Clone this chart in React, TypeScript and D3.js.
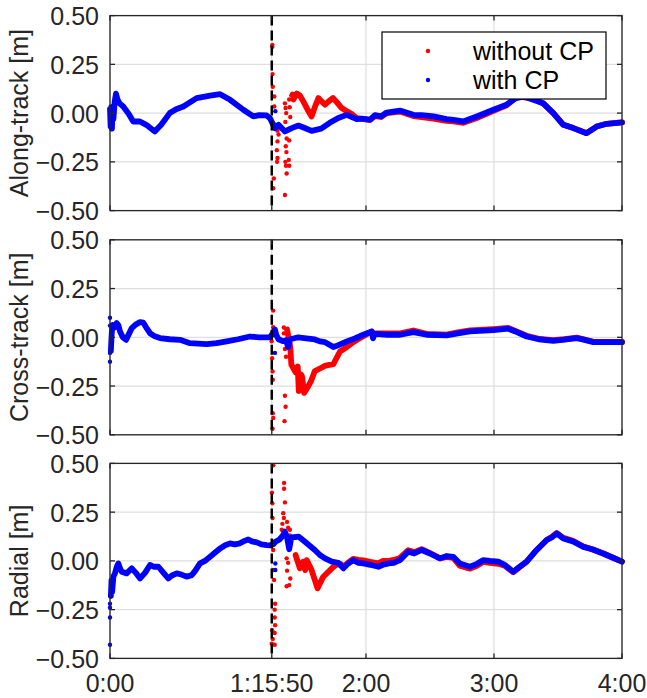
import React from "react";
import * as d3 from "d3";

// ---------- data (time in minutes, error in metres) ----------
const xTickValues = [0, 75 + 50 / 60, 120, 180, 240];
const xTickLabels = ["0:00", "1:15:50", "2:00", "3:00", "4:00"];
const yTickValues = [-0.5, -0.25, 0, 0.25, 0.5];
const panelLabels = ["Along-track [m]", "Cross-track [m]", "Radial [m]"];
const legendLabels = ["without CP", "with CP"];
const eventTime = 75 + 50 / 60;

// Along-track
const alongWithLine: [number, number][] = [
  [0, 0.02], [0.3, -0.07], [0.6, 0.03], [0.9, -0.08], [1.2, 0.02], [1.6, -0.03], [2.2, 0.06], [2.8, 0.1],
  [3.5, 0.07], [4.5, 0.05], [6.2, 0.034], [8.5, 0.0], [10.9, -0.043], [14, -0.043], [17, -0.06], [21, -0.094],
  [24, -0.06], [28, 0.0], [31, 0.02], [34.4, 0.034], [40.6, 0.077], [46.9, 0.09], [51.6, 0.097], [56.3, 0.068],
  [62.5, 0.017], [67.2, -0.017], [70, -0.01], [73.4, -0.012], [75, -0.026], [77.3, -0.077], [79, -0.06],
  [82, -0.094], [85.2, -0.077], [88.3, -0.064], [91, -0.075], [94.5, -0.091], [99, -0.08], [103, -0.05],
  [107, -0.025], [111, -0.009], [115.6, -0.031], [118, -0.028], [121.9, -0.034], [124.2, -0.01], [127, -0.017],
  [129.7, 0.003], [135.9, 0.013], [142.2, -0.009], [146, -0.01], [151.6, -0.017], [157.8, -0.031], [161, -0.035],
  [165.6, -0.043], [171.9, -0.017], [179.7, 0.017], [185.9, 0.043], [190, 0.075], [194, 0.085], [198.4, 0.068],
  [203, 0.051], [207.8, 0.0], [212.5, -0.06], [217.2, -0.077], [223.4, -0.103], [228.1, -0.069], [232.8, -0.055],
  [240, -0.048],
];
const alongWithoutLine: [number, number][] = [
  [86, 0.07], [87.5, 0.1], [89, 0.09], [90.6, 0.06], [92.5, 0.02], [94.5, -0.017], [96, 0.03], [97.7, 0.077],
  [99.2, 0.06], [100.8, 0.043], [102.5, 0.06], [104.5, 0.077], [106, 0.06], [108.6, 0.026], [111, 0.01],
  [113.3, -0.005], [115.6, -0.025], [118, -0.03], [121.9, -0.036], [124.2, -0.015], [127, -0.02], [129.7, 0.0],
  [135.9, 0.008], [142.2, -0.015], [146, -0.02], [151.6, -0.028], [157.8, -0.04], [161, -0.042], [165.6, -0.05],
  [171.9, -0.025], [179.7, 0.012], [185.9, 0.04], [191, 0.085], [198.4, 0.075], [203, 0.05], [207.8, 0.0],
  [212.5, -0.06], [217.2, -0.077], [223.4, -0.103], [228.1, -0.069], [232.8, -0.055], [240, -0.048],
];
const alongWithoutDots: [number, number][] = [
  [76.1, 0.35], [76.1, 0.34], [76.2, 0.2], [76.3, 0.135], [77, 0.085], [77, 0.034], [77.5, -0.06], [78.5, -0.09],
  [79, -0.11], [78.5, -0.145], [78.2, -0.19], [78.5, -0.23], [78.3, -0.25], [76.8, -0.335], [76.5, -0.385],
  [82, 0.05], [82.3, 0.026], [82.6, 0.0], [82.2, -0.045], [82.5, -0.09], [82.8, -0.13], [82.4, -0.17],
  [82.7, -0.2], [82.2, -0.25], [82.5, -0.27], [82.8, -0.31], [82, -0.42], [84, 0.07], [84.2, 0.03],
  [84.5, -0.02], [84.2, -0.08], [84, -0.14], [83.8, -0.24], [84, -0.27], [85, 0.09], [85.5, 0.1],
];
const alongWithDots: [number, number][] = [[77.5, 0.01]];

// Cross-track
const crossWithLine: [number, number][] = [
  [0.4, -0.07], [0.8, 0.02], [1.2, 0.064], [2, 0.05], [3.1, 0.073], [4, 0.06], [4.7, 0.03], [6, 0.0],
  [7.5, -0.013], [9, 0.02], [10.2, 0.047], [12, 0.065], [14.1, 0.078], [15.6, 0.075], [17, 0.05], [18.75, 0.021],
  [21, 0.005], [23.4, -0.004], [28, -0.01], [32.8, -0.013], [37.5, -0.03], [45.3, -0.035], [50, -0.03],
  [54.7, -0.021], [60, -0.01], [65.6, 0.004], [70, 0.0], [75, 0.0], [76.3, 0.02], [77.3, 0.04], [78, 0.01],
  [79, -0.01], [81, -0.02], [82.5, -0.015], [83.5, -0.05], [84.5, -0.01], [88.3, 0.0], [92, -0.005],
  [96, -0.011], [98.4, -0.021], [100.8, -0.025], [104.7, -0.05], [106, -0.045], [111, -0.021], [114.8, -0.006],
  [118.7, 0.013], [122.7, 0.03], [123.3, -0.005], [124, 0.018], [130, 0.013], [136, 0.013], [142.2, 0.027],
  [148.4, 0.013], [157.8, 0.01], [163, 0.02], [168.75, 0.03], [179.7, 0.037], [186.7, 0.044], [190, 0.03],
  [195.3, 0.004], [201, -0.01], [207.8, -0.018], [213, -0.012], [218.75, -0.004], [222, -0.012], [226.6, -0.025],
  [240, -0.025],
];
const crossWithDots: [number, number][] = [[0, 0.1], [0, 0.06], [0, -0.08], [0, -0.125], [77.3, -0.08]];
const crossWithoutLine: [number, number][] = [
  [83, 0.04], [84.5, -0.05], [85, -0.14], [87, -0.18], [88, -0.15], [88.5, -0.276], [89.5, -0.19], [90, -0.2],
  [91, -0.285], [92.5, -0.26], [94.2, -0.225], [96, -0.173], [98.4, -0.16], [101, -0.145], [104.7, -0.138],
  [106, -0.11], [107.8, -0.073], [111, -0.05], [114, -0.025], [117.2, -0.004], [122.7, 0.03], [123.3, 0.0],
  [124, 0.02], [130, 0.02], [136, 0.02], [142.2, 0.035], [148.4, 0.018], [157.8, 0.014], [163, 0.025],
  [168.75, 0.035], [179.7, 0.042], [186.7, 0.048], [190, 0.033], [195.3, 0.008], [201, -0.008], [207.8, -0.015],
  [213, -0.01], [218.75, -0.002], [222, -0.01], [226.6, -0.023], [240, -0.023],
];
const crossWithoutDots: [number, number][] = [
  [76.5, 0.137], [76.5, 0.052], [75.8, -0.02], [76, -0.107], [76.2, -0.175], [76.3, -0.218], [76.3, -0.389],
  [76.5, -0.414], [76.2, -0.469], [81.5, 0.05], [81.5, 0.02], [82, -0.06], [82.5, -0.1], [82, -0.3],
  [82.3, -0.356], [81.8, -0.43],
];

// Radial
const radialWithLine: [number, number][] = [
  [0.4, -0.18], [0.7, -0.1], [1.0, -0.16], [1.3, -0.12], [1.6, -0.08], [2.3, -0.064], [3.2, -0.03], [3.9, -0.013],
  [4.8, -0.04], [5.5, -0.056], [7.8, -0.064], [10.2, -0.038], [12, -0.06], [14.1, -0.09], [16.5, -0.06],
  [18.75, -0.021], [20.5, -0.03], [22.7, -0.03], [25, -0.06], [27.3, -0.09], [29, -0.075], [31.3, -0.064],
  [33.5, -0.07], [35.9, -0.081], [38.3, -0.073], [40, -0.05], [42.2, -0.013], [44.5, 0.0], [46.9, 0.021],
  [49, 0.04], [51.6, 0.064], [54, 0.08], [56.3, 0.09], [58.5, 0.085], [60.9, 0.09], [62.5, 0.1], [64.8, 0.11],
  [66.5, 0.1], [68.8, 0.095], [71, 0.085], [73.4, 0.081], [75, 0.08], [76.5, 0.085], [77.5, 0.098], [79.5, 0.11],
  [81, 0.13], [82, 0.15], [83, 0.12], [84, 0.06], [85, 0.12], [88.5, 0.124], [91.4, 0.098], [96, 0.056],
  [98.4, 0.03], [100.8, 0.013], [104, -0.004], [107, -0.01], [109.4, -0.038], [111.5, -0.015], [114, 0.004],
  [116.5, -0.01], [118.75, -0.013], [122, -0.02], [125.8, -0.03], [128, -0.02], [130.6, -0.013], [133, -0.01],
  [135.9, 0.004], [139.8, 0.047], [142.6, 0.038], [146.1, 0.056], [150, 0.038], [154.7, 0.013], [157.8, 0.025],
  [160.9, 0.021], [164, -0.013], [168.75, -0.03], [172, -0.015], [175, 0.004], [178, 0.0], [182, -0.004],
  [185, -0.02], [189, -0.056], [192, -0.03], [195.3, -0.004], [200, 0.056], [204.7, 0.107], [207, 0.12],
  [209.4, 0.141], [212.5, 0.115], [217, 0.1], [221.9, 0.072], [226, 0.06], [231.2, 0.038], [235, 0.02],
  [240, -0.004],
];
const radialWithDots: [number, number][] = [[0, -0.43], [0, -0.29], [0, -0.24], [0, -0.22], [77.5, -0.013], [77.5, -0.047]];
const radialWithoutLine: [number, number][] = [
  [87, 0.03], [89, -0.038], [90.5, -0.004], [91.5, -0.047], [92.2, 0.004], [94.5, -0.047], [97.3, -0.141],
  [98.4, -0.115], [100, -0.081], [104, -0.038], [106, -0.02], [108, -0.015], [109.4, -0.03], [111.5, -0.01],
  [114, 0.01], [116.5, 0.005], [118.75, 0.003], [122, -0.005], [125.8, -0.012], [128, 0.0], [130.6, 0.0],
  [133, 0.005], [135.9, 0.015], [139.8, 0.055], [142.6, 0.045], [146.1, 0.06], [150, 0.04], [154.7, 0.013],
  [157.8, 0.02], [160.9, 0.015], [164, -0.025], [168.75, -0.04], [172, -0.025], [175, -0.005], [178, -0.01],
  [182, -0.015], [185, -0.025], [189, -0.058], [192, -0.032], [195.3, -0.004], [200, 0.056], [204.7, 0.107],
  [207, 0.122], [209.4, 0.143], [212.5, 0.118], [217, 0.103], [221.9, 0.074], [226, 0.06], [231.2, 0.038],
  [235, 0.02], [240, -0.004],
];
const radialWithoutDots: [number, number][] = [
  [76.5, 0.49], [75.9, 0.35], [76.1, 0.296], [76.2, 0.22], [76.5, 0.056], [76.5, -0.047], [76.9, -0.098],
  [77.4, -0.22], [77.2, -0.25], [77.2, -0.29], [77.4, -0.33], [77.2, -0.37], [76, -0.355], [76.3, -0.4],
  [75.8, -0.425], [77.2, -0.43], [81.6, 0.4], [81.6, 0.37], [82, 0.3], [81.2, 0.245], [81.5, 0.22], [80.8, 0.19],
  [80.5, 0.16], [83, 0.2], [83.5, 0.17], [84.3, 0.16], [84.3, 0.13], [82.8, 0.013], [83.5, -0.01], [83, -0.05],
  [84.5, -0.09], [84, -0.124], [82.8, -0.13],
];

const panels = [
  { label: panelLabels[0], withLine: alongWithLine, withDots: alongWithDots, withoutLine: alongWithoutLine, withoutDots: alongWithoutDots },
  { label: panelLabels[1], withLine: crossWithLine, withDots: crossWithDots, withoutLine: crossWithoutLine, withoutDots: crossWithoutDots },
  { label: panelLabels[2], withLine: radialWithLine, withDots: radialWithDots, withoutLine: radialWithoutLine, withoutDots: radialWithoutDots },
];

// ---------- layout ----------
const W = 647;
const H = 698;
const LEFT = 110;
const RIGHT = 622;
const TOPS = [15.6, 239.8, 463.4];
const PH = 195;
const FONT = "'Liberation Sans', Arial, Helvetica, sans-serif";
const AXC = "#262626";
const RED = "#ff0000";
const BLUE = "#0000ff";

export default function App() {
  const x = d3.scaleLinear().domain([0, 240]).range([LEFT, RIGHT]);
  return (
    <svg width={W} height={H} style={{ position: "absolute", left: 0, top: 0, background: "#fff" }} fontFamily={FONT}>
      <rect x={0} y={0} width={W} height={H} fill="#fff" />
      {panels.map((p, i) => {
        const top = TOPS[i];
        const y = d3.scaleLinear().domain([-0.5, 0.5]).range([top + PH, top]);
        const line = d3.line<[number, number]>().x((d) => x(d[0])).y((d) => y(d[1]));
        const clipId = `clip${i}`;
        return (
          <g key={i}>
            <defs>
              <clipPath id={clipId}>
                <rect x={LEFT - 3} y={top - 3} width={RIGHT - LEFT + 6} height={PH + 6} />
              </clipPath>
            </defs>
            {/* grid */}
            {yTickValues.map((v) => (
              <line key={"gy" + v} x1={LEFT} x2={RIGHT} y1={y(v)} y2={y(v)} stroke="#dedede" strokeWidth={1.2} />
            ))}
            {xTickValues.map((v) => (
              <line key={"gx" + v} x1={x(v)} x2={x(v)} y1={top} y2={top + PH} stroke="#dedede" strokeWidth={1.2} />
            ))}
            <g clipPath={`url(#${clipId})`}>
              {/* without CP */}
              <path d={line(p.withoutLine) || ""} fill="none" stroke={RED} strokeWidth={5.8} strokeLinejoin="round" strokeLinecap="round" />
              {p.withoutDots.map((d, k) => (
                <circle key={"r" + k} cx={x(d[0])} cy={y(d[1])} r={2.2} fill={RED} />
              ))}
              {/* with CP */}
              <path d={line(p.withLine) || ""} fill="none" stroke={BLUE} strokeWidth={5.8} strokeLinejoin="round" strokeLinecap="round" />
              {p.withDots.map((d, k) => (
                <circle key={"b" + k} cx={x(d[0])} cy={y(d[1])} r={2.2} fill={BLUE} />
              ))}
            </g>
            {/* event marker */}
            <line x1={x(eventTime)} x2={x(eventTime)} y1={top} y2={top + PH} stroke="#000" strokeWidth={2.5} strokeDasharray="10 5" />
            {/* box */}
            <rect x={LEFT} y={top} width={RIGHT - LEFT} height={PH} fill="none" stroke={AXC} strokeWidth={1.3} />
            {/* ticks */}
            {yTickValues.map((v) => (
              <g key={"ty" + v}>
                <line x1={LEFT} x2={LEFT + 5} y1={y(v)} y2={y(v)} stroke={AXC} strokeWidth={1.3} />
                <line x1={RIGHT - 5} x2={RIGHT} y1={y(v)} y2={y(v)} stroke={AXC} strokeWidth={1.3} />
                <text x={LEFT - 11} y={y(v) + 9.5} textAnchor="end" fontSize={25} fill={AXC}>
                  {d3.format(".2f")(v)}
                </text>
              </g>
            ))}
            {xTickValues.map((v) => (
              <g key={"tx" + v}>
                <line x1={x(v)} x2={x(v)} y1={top} y2={top + 5} stroke={AXC} strokeWidth={1.3} />
                <line x1={x(v)} x2={x(v)} y1={top + PH - 5} y2={top + PH} stroke={AXC} strokeWidth={1.3} />
              </g>
            ))}
            <text
              transform={`translate(28,${top + PH / 2}) rotate(-90)`}
              textAnchor="middle"
              fontSize={25}
              fill={AXC}
            >
              {p.label}
            </text>
          </g>
        );
      })}
      {/* x tick labels on bottom panel */}
      {xTickValues.map((v, k) => (
        <text key={"xl" + k} x={x(v)} y={691.5} textAnchor="middle" fontSize={25} fill={AXC}>
          {xTickLabels[k]}
        </text>
      ))}
      {/* legend */}
      <g>
        <rect x={382} y={32} width={224} height={67} fill="#fff" stroke="#000" strokeWidth={1.2} />
        <circle cx={428} cy={51} r={2.2} fill={RED} />
        <circle cx={428} cy={80} r={2.2} fill={BLUE} />
        <text x={473} y={60} fontSize={25} fill="#000">{legendLabels[0]}</text>
        <text x={473} y={89} fontSize={25} fill="#000">{legendLabels[1]}</text>
      </g>
    </svg>
  );
}
